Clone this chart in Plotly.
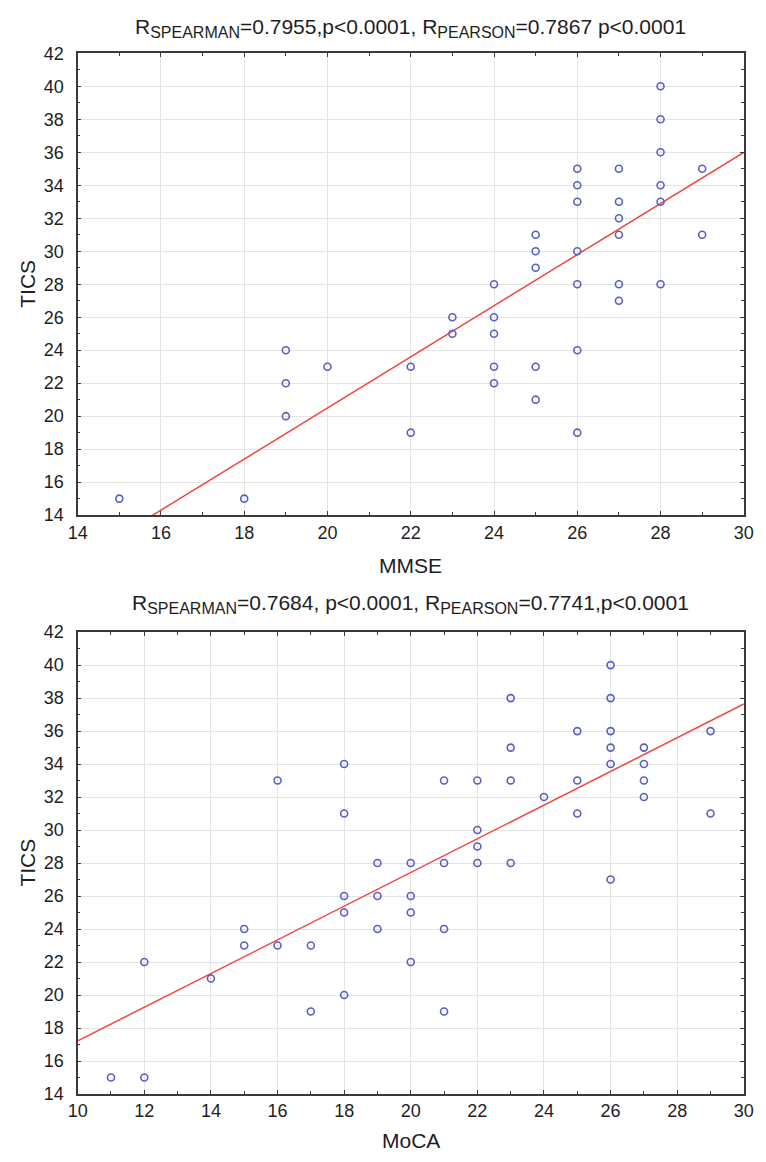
import numpy as np
import plotly.graph_objects as go

# ---- data: top panel (MMSE vs TICS) ----
mmse = [15, 18, 19, 19, 19, 20, 22, 22, 23, 23,
        24, 24, 24, 24, 24, 25, 25, 25, 25, 25,
        26, 26, 26, 26, 26, 26, 26,
        27, 27, 27, 27, 27, 27,
        28, 28, 28, 28, 28, 28,
        29, 29]
tics_mmse = [15, 15, 24, 22, 20, 23, 23, 19, 26, 25,
             28, 26, 25, 23, 22, 31, 30, 29, 23, 21,
             35, 34, 33, 30, 28, 24, 19,
             35, 33, 32, 31, 28, 27,
             40, 38, 36, 34, 33, 28,
             35, 31]

# ---- data: bottom panel (MoCA vs TICS) ----
moca = [11, 12, 12, 14, 15, 15, 16, 16, 17, 17,
        18, 18, 18, 18, 18, 19, 19, 19,
        20, 20, 20, 20, 21, 21, 21, 21,
        22, 22, 22, 22, 23, 23, 23, 23, 24,
        25, 25, 25, 26, 26, 26, 26, 26, 26,
        27, 27, 27, 27, 29, 29]
tics_moca = [15, 15, 22, 21, 24, 23, 33, 23, 23, 19,
             34, 31, 26, 25, 20, 28, 26, 24,
             28, 26, 25, 22, 33, 28, 24, 19,
             33, 30, 29, 28, 38, 35, 33, 28, 32,
             36, 33, 31, 40, 38, 36, 35, 34, 27,
             35, 34, 33, 32, 36, 31]

# regression lines: [slope, intercept]
fit_top = [1.549, -10.48]
fit_bot = [1.021, 7.01]

SUB = "<sub><span style='font-size:16px'>{}</span></sub>"
title_top = ("R" + SUB.format("SPEARMAN") + "=0.7955,p<0.0001, R" + SUB.format("PEARSON")
             + "=0.7867 p<0.0001")
title_bot = ("R" + SUB.format("SPEARMAN") + "=0.7684, p<0.0001, R" + SUB.format("PEARSON")
             + "=0.7741,p<0.0001")

W, H = 766, 1162
FONT = "Liberation Sans, Arial, sans-serif"
MARK = "#5a5fc2"
LINE = "#f0463f"
AX = "#3a3a3a"
TXT = "#1e1e1e"

def py(px):
    return 1 - px / H

def px_x(px):
    return px / W

x_dom = [px_x(69.5), px_x(753.5)]
top_dom = [py(514), py(44)]
bot_dom = [py(1103), py(633)]

fig = go.Figure()

panels = [
    (mmse, tics_mmse, fit_top, "x", "y", [14, 30]),
    (moca, tics_moca, fit_bot, "x2", "y2", [10, 30]),
]
for xs, ys, fit, xa, ya, xr in panels:
    lx = np.array(xr, float)
    fig.add_trace(go.Scatter(x=lx, y=fit[0] * lx + fit[1], mode="lines",
                             line=dict(color=LINE, width=1.5),
                             xaxis=xa, yaxis=ya, showlegend=False, hoverinfo="skip"))
    fig.add_trace(go.Scatter(x=xs, y=ys, mode="markers",
                             marker=dict(symbol="circle-open", size=7, color=MARK,
                                         line=dict(width=1.6, color=MARK)),
                             xaxis=xa, yaxis=ya, showlegend=False, cliponaxis=False))

def axis_style(rng, domain, anchor, suffix=""):
    return dict(range=rng, domain=domain, anchor=anchor, dtick=2, tick0=0,
                showline=True, linecolor=AX, linewidth=1.5, mirror="ticks",
                ticks="inside", ticklen=4, tickcolor=AX, tickwidth=1,
                ticksuffix=suffix,
                showgrid=True, gridcolor="#e4e4e4", gridwidth=1,
                zeroline=False,
                minor=dict(dtick=1, ticks="inside", ticklen=3, tickcolor=AX, showgrid=False),
                tickfont=dict(family=FONT, size=18, color=TXT))

YSUF = "\u00a0\u2009"
fig.update_layout(
    width=W, height=H,
    margin=dict(l=0, r=0, t=0, b=0),
    paper_bgcolor="white", plot_bgcolor="white",
    font=dict(family=FONT, color=TXT),
    xaxis=axis_style([14, 30], x_dom, "y"),
    yaxis=axis_style([14, 42], top_dom, "x", YSUF),
    xaxis2=axis_style([10, 30], x_dom, "y2"),
    yaxis2=axis_style([14, 42], bot_dom, "x2", YSUF),
)

xc = (x_dom[0] + x_dom[1]) / 2
ann = [
    dict(text=title_top, x=xc, y=py(18), size=21),
    dict(text=title_bot, x=xc, y=py(604), size=21),
    dict(text="MMSE", x=xc, y=py(565), size=21),
    dict(text="MoCA", x=xc, y=py(1150), size=21),
]
for a in ann:
    fig.add_annotation(text=a["text"], x=a["x"], y=a["y"], xref="paper", yref="paper",
                       xanchor="center", yanchor="middle", showarrow=False,
                       font=dict(family=FONT, size=a["size"], color=TXT))
for yc in [py(279), py(868)]:
    fig.add_annotation(text="TICS", x=px_x(18), y=yc, xref="paper", yref="paper",
                       xanchor="center", yanchor="middle", showarrow=False, textangle=-90,
                       font=dict(family=FONT, size=21, color=TXT))

fig.write_html("out.html")
